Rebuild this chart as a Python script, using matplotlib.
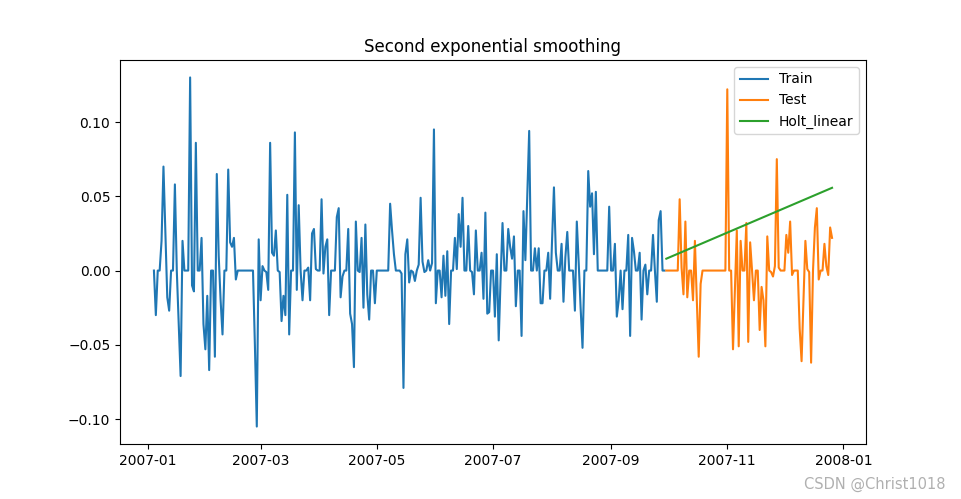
import numpy as np
import pandas as pd
import matplotlib
matplotlib.use('Agg')
import matplotlib.pyplot as plt

# daily diff values
train_start = '2007-01-04'
train_values = [
    0.0, -0.030, 0.0, 0.0, 0.020, 0.070, 0.025, -0.018, -0.027, 0.0,
    0.0, 0.058, 0.0, -0.035, -0.071, 0.020, 0.0, 0.0, 0.0, 0.130,
    -0.010, -0.014, 0.086, 0.0, 0.0, 0.022, -0.036, -0.053, -0.017, -0.067,
    0.0, 0.0, -0.058, 0.065, 0.010, -0.020, -0.043, 0.0, 0.0, 0.068,
    0.019, 0.016, 0.022, -0.006, 0.0, 0.0, 0.0, 0.0, 0.0, 0.0,
    0.0, 0.0, 0.0, -0.050, -0.105, 0.021, -0.020, 0.003, 0.0, -0.001,
    -0.013, 0.086, 0.012, 0.010, 0.027, 0.0, -0.001, -0.034, -0.017, -0.030,
    0.051, -0.043, 0.0, 0.0, 0.093, -0.013, 0.044, 0.0, -0.020, 0.0,
    0.0, 0.002, -0.020, 0.025, 0.028, 0.001, 0.0, 0.0, 0.048, -0.002,
    0.016, 0.021, -0.030, 0.0, 0.0, 0.0, 0.036, 0.042, -0.018, -0.004,
    0.0, 0.0, 0.028, -0.029, -0.036, -0.065, 0.033, 0.0, -0.001, 0.022,
    -0.025, 0.031, -0.016, -0.033, 0.0, 0.0, -0.022, 0.0, 0.0, 0.0,
    0.0, 0.0, 0.0, 0.0, 0.045, 0.027, 0.011, 0.0, 0.0, 0.0,
    -0.002, -0.079, 0.011, 0.021, -0.008, 0.0, -0.001, -0.007, 0.0, 0.004,
    0.049, 0.006, -0.001, 0.0, 0.007, 0.0, 0.005, 0.095, -0.022, 0.0,
    0.0, -0.018, 0.010, -0.017, 0.013, -0.036, 0.0, 0.0, 0.022, 0.001,
    0.038, 0.016, 0.049, 0.0, 0.0, 0.030, 0.0, -0.001, -0.016, 0.027,
    0.0, 0.0, 0.012, -0.019, 0.039, -0.029, -0.028, 0.0, 0.0, -0.031,
    0.011, -0.047, -0.005, 0.032, 0.0, 0.0, 0.028, 0.016, 0.008, 0.023,
    -0.024, 0.0, 0.0, -0.044, 0.040, 0.007, 0.050, 0.094, 0.0, 0.0,
    0.015, 0.0, 0.015, -0.022, -0.022, 0.0, 0.0, 0.012, -0.019, 0.020,
    0.056, 0.012, 0.0, 0.0, 0.018, -0.021, 0.009, 0.026, 0.0, 0.0,
    0.0, -0.027, 0.033, 0.005, -0.025, -0.052, 0.0, 0.0, 0.067, 0.043,
    0.052, 0.011, 0.053, 0.0, 0.0, 0.0, 0.0, 0.0, 0.0, 0.043,
    0.0, 0.0, 0.018, -0.031, -0.020, 0.0, -0.026, 0.0, 0.0, 0.024,
    -0.044, 0.022, 0.013, 0.0, 0.0, 0.012, -0.033, 0.0, 0.004, -0.016,
    0.0, 0.0, 0.024, 0.0, -0.021, 0.034, 0.040, 0.0, 0.0,
]
test_values = [
    0.0, 0.0, 0.0, 0.0, 0.0, 0.0, 0.0, 0.048, 0.002, -0.016,
    0.033, -0.018, 0.0, 0.0, -0.020, 0.020, -0.020, -0.058, -0.009, 0.0,
    0.0, 0.0, 0.0, 0.0, 0.0, 0.0, 0.0, 0.0, 0.0, 0.0,
    0.0, 0.0, 0.122, 0.0, 0.0, -0.053, -0.013, 0.027, -0.051, 0.020,
    0.0, 0.0, 0.032, -0.048, 0.019, 0.0, -0.020, 0.0, 0.0, -0.040,
    -0.011, -0.020, -0.051, 0.023, 0.0, -0.001, -0.004, 0.003, 0.075, 0.002,
    0.0, 0.0, 0.0, 0.024, 0.012, 0.033, -0.003, 0.0, 0.0, 0.0,
    -0.039, -0.061, -0.020, 0.020, 0.001, -0.001, -0.062, 0.0, 0.029, 0.042,
    -0.006, 0.0, 0.0, 0.018, 0.003, -0.003, 0.029, 0.022,
]
# Holt linear forecast: first and last forecast values (straight line)
holt_values = [0.008, 0.0557]

dates = pd.date_range(train_start, periods=len(train_values) + len(test_values), freq='D')
train = pd.Series(train_values, index=dates[:len(train_values)])
test = pd.Series(test_values, index=dates[len(train_values):])
holt = pd.Series(holt_values, index=[test.index[0], test.index[-1]])

fig = plt.figure(figsize=(9.61, 4.99), dpi=100)
ax = fig.add_subplot(111)
fig.subplots_adjust(left=0.1249, right=0.9011, bottom=0.1102, top=0.8798)

ax.plot(train.index, train.values, label='Train')
ax.plot(test.index, test.values, label='Test')
ax.plot(holt.index, holt.values, label='Holt_linear')
ax.legend(loc='upper right')
ax.set_title('Second exponential smoothing')

fig.text(0.984, 0.03, 'CSDN @Christ1018', ha='right', va='center',
         color='#b0b0b0', fontsize=10.5)

fig.savefig('out.png', dpi=100)
